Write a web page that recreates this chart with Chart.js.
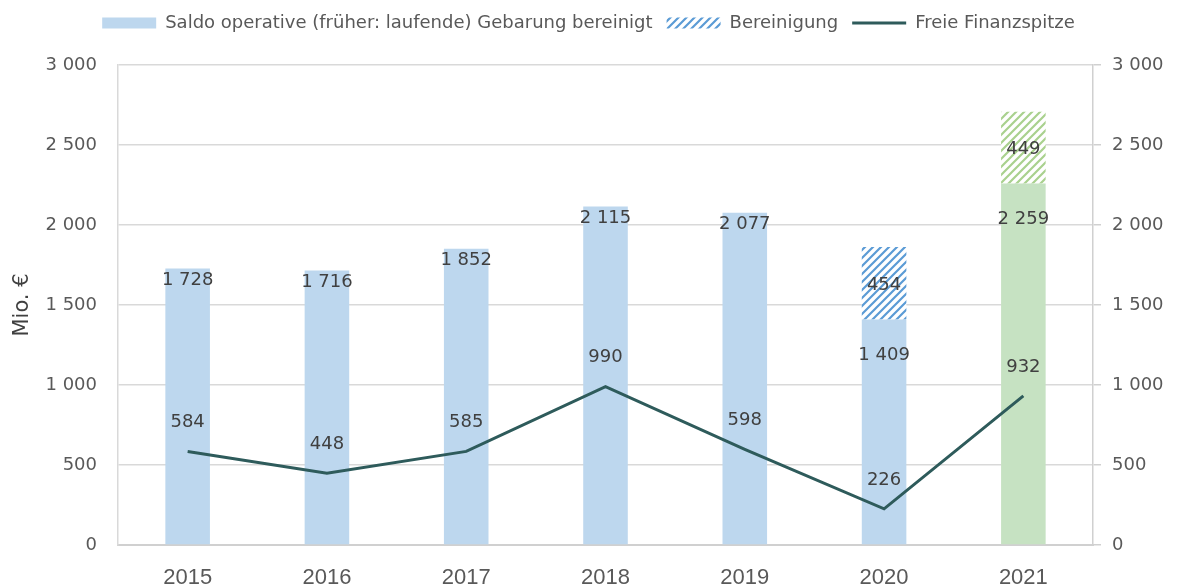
<!DOCTYPE html>
<html>
<head>
<meta charset="utf-8">
<script src="https://cdn.jsdelivr.net/npm/chart.js"></script>
<style>
  html, body { margin: 0; padding: 0; background: #fff; overflow: hidden; }
</style>
</head>
<body>
<canvas id="chart" width="1177" height="584"></canvas>
<script>
// Daten
const years = ['2015', '2016', '2017', '2018', '2019', '2020', '2021'];
const saldoBereinigt = [1728, 1716, 1852, 2115, 2077, 1409, 2259];
const bereinigung = [null, null, null, null, null, 454, 449];
const freieFinanzspitze = [584, 448, 585, 990, 598, 226, 932];
const yMin = 0, yMax = 3000, yStep = 500;

const FONT = '"DejaVu Sans", sans-serif';
const fmt = v => String(v).replace(/\B(?=(\d{3})+(?!\d))/g, ' ');

const canvas = document.getElementById('chart');
const ctx = canvas.getContext('2d');

function hatch(color) {
  const c = document.createElement('canvas');
  c.width = 8; c.height = 8;
  const g = c.getContext('2d');
  g.fillStyle = '#fff';
  g.fillRect(0, 0, 8, 8);
  g.strokeStyle = color;
  g.lineWidth = 2.2;
  g.beginPath();
  g.moveTo(-2, 10); g.lineTo(10, -2);
  g.moveTo(-6, 6); g.lineTo(6, -6);
  g.moveTo(2, 14); g.lineTo(14, 2);
  g.stroke();
  return ctx.createPattern(c, 'repeat');
}

const blue = '#bdd7ee', green = '#c6e2c2';
const blueHatch = hatch('#5b9bd5'), greenHatch = hatch('#a9d18e');
const barColors = years.map(y => y === '2021' ? green : blue);
const hatchColors = years.map(y => y === '2021' ? greenHatch : blueHatch);

// Werte-Beschriftungen
const valueLabels = {
  id: 'valueLabels',
  afterDatasetsDraw(chart) {
    const c = chart.ctx;
    c.save();
    c.font = '18px ' + FONT;
    c.fillStyle = '#404040';
    c.textAlign = 'center';
    c.textBaseline = 'middle';
    chart.data.datasets.forEach((ds, i) => {
      const meta = chart.getDatasetMeta(i);
      meta.data.forEach((el, j) => {
        const v = ds.data[j];
        if (v == null) return;
        let y;
        if (ds.type === 'line') y = el.y - 29;
        else if (i === 1) y = (el.y + el.base) / 2 + 2;
        else y = el.y + (bereinigung[j] != null ? 36 : 12);
        c.fillText(fmt(v), el.x, y);
      });
    });
    c.restore();
  }
};

const legendHeight = {
  id: 'legendHeight',
  beforeInit(chart) {
    const fit = chart.legend.fit;
    chart.legend.fit = function () {
      fit.call(this);
      this.height = 65;
    };
  }
};

new Chart(ctx, {
  data: {
    labels: years,
    datasets: [{
      type: 'bar',
      label: 'Saldo operative (früher: laufende) Gebarung bereinigt',
      data: saldoBereinigt,
      backgroundColor: barColors,
      order: 1
    }, {
      type: 'bar',
      label: 'Bereinigung',
      data: bereinigung,
      backgroundColor: hatchColors,
      order: 1
    }, {
      type: 'line',
      label: 'Freie Finanzspitze',
      data: freieFinanzspitze,
      borderColor: '#2e5b5b',
      backgroundColor: '#2e5b5b',
      borderWidth: 3,
      pointRadius: 0,
      tension: 0,
      order: 0
    }]
  },
  options: {
    responsive: false,
    animation: false,
    layout: { padding: 0 },
    datasets: { bar: { categoryPercentage: 1, barPercentage: 0.32 } },
    plugins: {
      tooltip: { enabled: false },
      legend: {
        position: 'top',
        labels: {
          font: { family: FONT, size: 18 },
          color: '#595959',
          usePointStyle: true,
          pointStyleWidth: 54,
          boxHeight: 11,
          padding: 14,
          sort: (a, b) => a.datasetIndex - b.datasetIndex,
          generateLabels(chart) {
            const items = Chart.defaults.plugins.legend.labels.generateLabels(chart);
            items.forEach(it => {
              it.pointStyle = chart.data.datasets[it.datasetIndex].type === 'line' ? 'line' : 'rect';
              if (it.pointStyle === 'rect') it.lineWidth = 0;
            });
            return items;
          }
        }
      }
    },
    scales: {
      x: {
        stacked: true,
        grid: { display: false },
        border: { display: true, color: '#d0d0d0', width: 2 },
        ticks: { font: { family: '"Liberation Sans", sans-serif', size: 22 }, color: '#595959', padding: 12 },
        afterFit(s) { s.height = 39; }
      },
      y: {
        stacked: true,
        position: 'left',
        min: yMin, max: yMax,
        grid: { color: '#d9d9d9', lineWidth: 1.5, drawTicks: false },
        border: { display: true, color: '#d9d9d9', width: 1.5 },
        ticks: { stepSize: yStep, font: { family: FONT, size: 18 }, color: '#595959', padding: 21, callback: v => fmt(v) },
        title: { display: true, text: 'Mio. €', font: { family: FONT, size: 21 }, color: '#404040', padding: { top: 10, bottom: 0 } },
        afterFit(s) { s.width = 118; }
      },
      y2: {
        position: 'right',
        min: yMin, max: yMax,
        grid: { drawOnChartArea: false, drawTicks: true, tickLength: 8, color: '#d0d0d0', lineWidth: 1.5 },
        border: { display: true, color: '#d0d0d0', width: 1.5 },
        ticks: { stepSize: yStep, font: { family: FONT, size: 18 }, color: '#595959', padding: 11, callback: v => fmt(v) },
        afterFit(s) { s.width = 84; }
      }
    }
  },
  plugins: [legendHeight, valueLabels]
});
</script>
</body>
</html>
